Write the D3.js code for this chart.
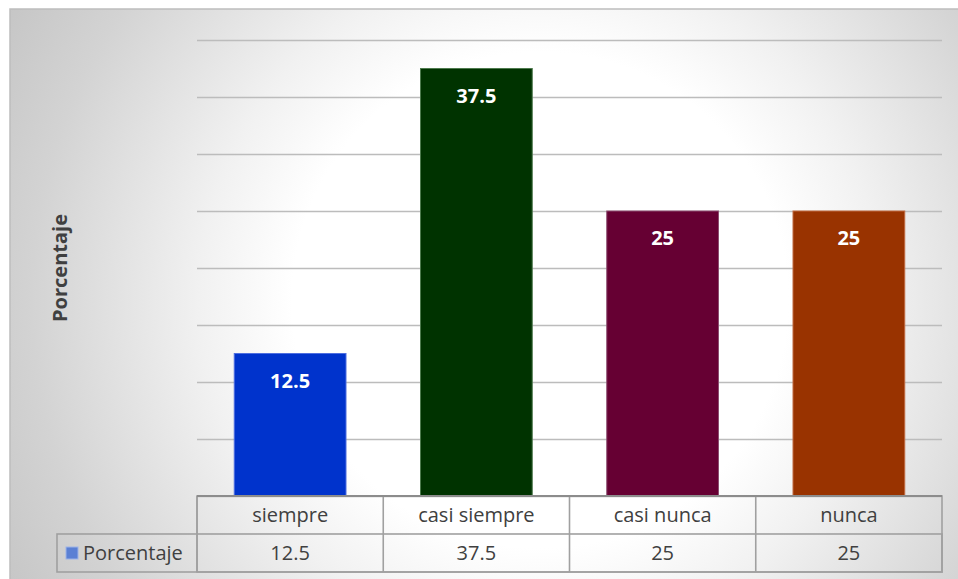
<!DOCTYPE html>
<html>
<head>
<meta charset="utf-8">
<script src="https://cdn.jsdelivr.net/npm/d3@7/dist/d3.min.js"></script>
<style>
  html, body { margin: 0; padding: 0; background: #ffffff; }
  svg { display: block; }
  text { font-family: "Open Sans", "Noto Sans", sans-serif; }
</style>
</head>
<body>
<svg id="chart" width="958" height="579"></svg>
<script>
// Survey responses: share of answers per frequency category
const categories = ["siempre", "casi siempre", "casi nunca", "nunca"];
const values = [12.5, 37.5, 25, 25];
const valueLabels = ["12.5", "37.5", "25", "25"];
const barColors = ["#0033cc", "#003300", "#660033", "#993300"];
const barEdges = ["#4d6ee0", "#4d7a4d", "#8c4d70", "#c06a40"];
const seriesName = "Porcentaje";
const yTicks = [0, 5, 10, 15, 20, 25, 30, 35, 40];

const svg = d3.select("#chart");
const W = 958, H = 579;

// Background panel with soft radial shading
const defs = svg.append("defs");
const grad = defs.append("radialGradient")
  .attr("id", "bg")
  .attr("gradientUnits", "userSpaceOnUse")
  .attr("cx", 540).attr("cy", 300).attr("r", 620);
[[0, "#ffffff"], [0.4, "#ffffff"], [0.55, "#f1f1f1"], [0.82, "#d3d3d3"], [1, "#c4c4c4"]]
  .forEach(([o, c]) => grad.append("stop").attr("offset", o).attr("stop-color", c));

svg.append("rect")
  .attr("x", 10).attr("y", 9).attr("width", W).attr("height", H)
  .attr("fill", "url(#bg)")
  .attr("stroke", "#bdbdbd").attr("stroke-width", 1.5);

// Plot geometry
const plot = { left: 197, right: 942, top: 40, bottom: 496 };

const x = d3.scaleBand()
  .domain(categories)
  .range([plot.left, plot.right])
  .paddingInner(0.4)
  .paddingOuter(0.2);

const y = d3.scaleLinear()
  .domain([0, 40])
  .range([plot.bottom, plot.top]);

// Horizontal gridlines
const yAxis = d3.axisLeft(y)
  .tickValues(yTicks)
  .tickSize(-(plot.right - plot.left))
  .tickFormat("");
const gy = svg.append("g")
  .attr("transform", `translate(${plot.left},0)`)
  .call(yAxis);
gy.select(".domain").remove();
gy.selectAll(".tick line")
  .attr("stroke", "#bcbcbc")
  .attr("stroke-width", 1.6);

// Bars
svg.append("g").selectAll("rect")
  .data(values)
  .join("rect")
  .attr("x", (d, i) => x(categories[i]))
  .attr("y", d => y(d))
  .attr("width", x.bandwidth())
  .attr("height", d => y(0) - y(d))
  .attr("fill", (d, i) => barColors[i])
  .attr("stroke", (d, i) => barEdges[i])
  .attr("stroke-width", 1);

// Value labels inside the bars
svg.append("g").selectAll("text")
  .data(values)
  .join("text")
  .attr("x", (d, i) => x(categories[i]) + x.bandwidth() / 2)
  .attr("y", d => y(d) + 34)
  .attr("text-anchor", "middle")
  .attr("fill", "#ffffff")
  .attr("font-weight", "bold")
  .attr("font-size", 20)
  .text((d, i) => valueLabels[i]);

// Y axis title
svg.append("text")
  .attr("transform", "translate(67,268) rotate(-90)")
  .attr("text-anchor", "middle")
  .attr("fill", "#404040")
  .attr("font-weight", "bold")
  .attr("font-size", 20)
  .text("Porcentaje");

// Data table below the plot
const rowTop = plot.bottom, rowMid = 534, rowBot = 572;
const tableLeft = 57;
const tbl = svg.append("g")
  .attr("fill", "none")
  .attr("stroke", "#a0a0a0")
  .attr("stroke-width", 1.6);

// header row cells (categories)
tbl.append("rect")
  .attr("x", plot.left).attr("y", rowTop)
  .attr("width", plot.right - plot.left).attr("height", rowBot - rowTop);
tbl.append("rect")
  .attr("x", tableLeft).attr("y", rowMid)
  .attr("width", plot.right - tableLeft).attr("height", rowBot - rowMid);
// column separators from band boundaries
const step = x.step();
d3.range(1, categories.length).forEach(i => {
  const cx = plot.left + step * i;
  tbl.append("line")
    .attr("x1", cx).attr("x2", cx)
    .attr("y1", rowTop).attr("y2", rowBot);
});
tbl.append("line")
  .attr("x1", plot.left).attr("x2", plot.left)
  .attr("y1", rowTop).attr("y2", rowBot);

// category axis line
svg.append("line")
  .attr("x1", plot.left).attr("x2", plot.right)
  .attr("y1", plot.bottom).attr("y2", plot.bottom)
  .attr("stroke", "#8c8c8c").attr("stroke-width", 2);

const colCenter = c => x(c) + x.bandwidth() / 2;

svg.append("g").selectAll("text")
  .data(categories)
  .join("text")
  .attr("x", d => colCenter(d))
  .attr("y", (rowTop + rowMid) / 2 + 7)
  .attr("text-anchor", "middle")
  .attr("fill", "#404040")
  .attr("font-size", 20)
  .text(d => d);

svg.append("g").selectAll("text")
  .data(values)
  .join("text")
  .attr("x", (d, i) => colCenter(categories[i]))
  .attr("y", (rowMid + rowBot) / 2 + 7)
  .attr("text-anchor", "middle")
  .attr("fill", "#404040")
  .attr("font-size", 20)
  .text((d, i) => valueLabels[i]);

// legend key and series name
svg.append("rect")
  .attr("x", 66).attr("y", (rowMid + rowBot) / 2 - 6)
  .attr("width", 12).attr("height", 12)
  .attr("fill", "#5b80d4")
  .attr("stroke", "#9db3e8").attr("stroke-width", 1);
svg.append("text")
  .attr("x", 83).attr("y", (rowMid + rowBot) / 2 + 7)
  .attr("fill", "#404040")
  .attr("font-size", 20)
  .text(seriesName);
</script>
</body>
</html>
